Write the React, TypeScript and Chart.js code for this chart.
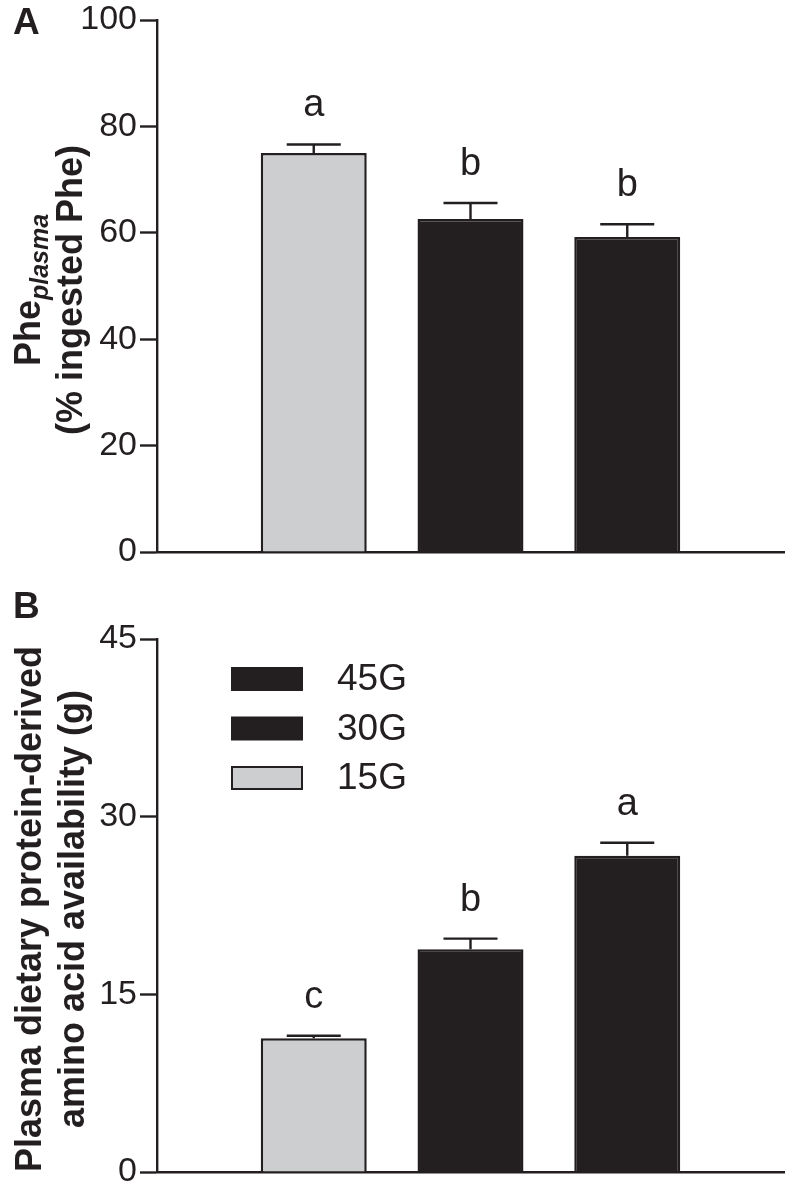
import React, { useEffect, useRef } from "react";
import { Chart, registerables } from "chart.js";

Chart.register(...registerables);

// ---------- data ----------
const slots = ["", "15G", "30G", "45G", ""];
const pheValues = [75.0, 62.6, 59.2];
const pheErrors = [1.6, 3.0, 2.4];
const pheLetters = ["a", "b", "b"];
const pheTicks = [0, 20, 40, 60, 80, 100];

const aaValues = [11.3, 18.8, 26.7];
const aaErrors = [0.2, 0.9, 1.1];
const aaLetters = ["c", "b", "a"];
const aaTicks = [0, 15, 30, 45];

const legendLabels = ["45G", "30G", "15G"];
const legendColors = ["#231f20", "#231f20", "#cdced0"];
const barColors = ["#cdced0", "#231f20", "#231f20"];

// ---------- styles ----------
const INK = "#231f20";
const FONT = '"Liberation Sans", Arial, Helvetica, sans-serif';

type TitlePart = { text: string; font: string; dy: number };

function drawRotated(ctx: CanvasRenderingContext2D, cx: number, cy: number, parts: TitlePart[]) {
  ctx.save();
  ctx.translate(cx, cy);
  ctx.rotate(-Math.PI / 2);
  ctx.fillStyle = INK;
  ctx.textAlign = "left";
  ctx.textBaseline = "alphabetic";
  const widths = parts.map((p) => {
    ctx.font = p.font;
    return ctx.measureText(p.text).width;
  });
  const total = widths.reduce((a, b) => a + b, 0);
  let u = -total / 2;
  parts.forEach((p, i) => {
    ctx.font = p.font;
    ctx.fillText(p.text, u, p.dy);
    u += widths[i];
  });
  ctx.restore();
}

type PanelCfg = {
  values: number[];
  errors: number[];
  letters: string[];
  ticks: number[];
  max: number;
  padTop: number;
  padBottom: number;
  panelLabel: string;
  panelLabelY: number;
  titleLines: { parts: TitlePart[]; x: number }[];
  titleCenterY: number;
  legend: boolean;
};

function makePlugin(cfg: PanelCfg) {
  return {
    id: "panelExtras",
    afterDatasetsDraw(chart: any) {
      const ctx: CanvasRenderingContext2D = chart.ctx;
      const meta = chart.getDatasetMeta(0);
      const yScale = chart.scales.y;
      ctx.save();
      cfg.values.forEach((v, i) => {
        const bar: any = meta.data[i + 1];
        const x = bar.x;
        const top = yScale.getPixelForValue(v + cfg.errors[i]);
        const half = bar.width * 0.255;
        ctx.strokeStyle = INK;
        ctx.lineWidth = 2.4;
        ctx.beginPath();
        ctx.moveTo(x, bar.y);
        ctx.lineTo(x, top);
        ctx.moveTo(x - half, top);
        ctx.lineTo(x + half, top);
        ctx.stroke();
        ctx.fillStyle = INK;
        ctx.font = `38px ${FONT}`;
        ctx.textAlign = "center";
        ctx.textBaseline = "alphabetic";
        ctx.fillText(cfg.letters[i], x, top - 28);
      });
      ctx.restore();
    },
    afterDraw(chart: any) {
      const ctx: CanvasRenderingContext2D = chart.ctx;
      ctx.save();
      // panel label
      ctx.fillStyle = INK;
      ctx.font = `bold 37px ${FONT}`;
      ctx.textAlign = "left";
      ctx.textBaseline = "alphabetic";
      ctx.fillText(cfg.panelLabel, 13, cfg.panelLabelY);
      // axis title
      cfg.titleLines.forEach((line) => drawRotated(ctx, line.x, cfg.titleCenterY, line.parts));
      // legend
      if (cfg.legend) {
        legendLabels.forEach((lab, i) => {
          const y0 = 88 + i * 49.5;
          ctx.fillStyle = legendColors[i];
          ctx.fillRect(232, y0, 70, 22);
          ctx.strokeStyle = INK;
          ctx.lineWidth = 2;
          ctx.strokeRect(232, y0, 70, 22);
          ctx.fillStyle = INK;
          ctx.font = `37px ${FONT}`;
          ctx.textAlign = "left";
          ctx.textBaseline = "middle";
          ctx.fillText(lab, 337, y0 + 12);
        });
      }
      ctx.restore();
    },
  };
}

function makeConfig(cfg: PanelCfg): any {
  return {
    type: "bar",
    data: {
      labels: slots,
      datasets: [
        {
          data: [null, ...cfg.values, null],
          backgroundColor: ["#fff", ...barColors, "#fff"],
          borderColor: INK,
          borderWidth: 2.5,
          barPercentage: 0.676,
          categoryPercentage: 1,
        },
      ],
    },
    options: {
      animation: false,
      responsive: false,
      devicePixelRatio: 1,
      layout: { padding: { top: cfg.padTop, bottom: cfg.padBottom, right: 3, left: 0 } },
      plugins: { legend: { display: false }, tooltip: { enabled: false }, title: { display: false } },
      scales: {
        x: {
          type: "category",
          offset: false,
          ticks: { display: false },
          grid: { display: true, drawOnChartArea: false, drawTicks: false },
          border: { display: true, color: INK, width: 2.4 },
          afterFit(scale: any) {
            scale.height = 0;
          },
        },
        y: {
          min: 0,
          max: cfg.max,
          afterBuildTicks(scale: any) {
            scale.ticks = cfg.ticks.map((v) => ({ value: v }));
          },
          ticks: {
            color: INK,
            font: { family: FONT, size: 34, lineHeight: 1 },
            padding: 3,
          },
          grid: {
            display: true,
            drawOnChartArea: false,
            drawTicks: true,
            tickLength: 17,
            tickWidth: 2.4,
            tickColor: INK,
          },
          border: { display: true, color: INK, width: 2.4 },
          afterFit(scale: any) {
            scale.width = 157;
          },
        },
      },
    },
    plugins: [makePlugin(cfg)],
  };
}

const panelA: PanelCfg = {
  values: pheValues,
  errors: pheErrors,
  letters: pheLetters,
  ticks: pheTicks,
  max: 100,
  padTop: 18,
  padBottom: 28,
  panelLabel: "A",
  panelLabelY: 34,
  titleCenterY: 290,
  titleLines: [
    {
      x: 40,
      parts: [
        { text: "Phe", font: `bold 36px ${FONT}`, dy: 0 },
        { text: "plasma", font: `italic bold 25px ${FONT}`, dy: 8 },
      ],
    },
    { x: 82, parts: [{ text: "(% ingested Phe)", font: `bold 36px ${FONT}`, dy: 0 }] },
  ],
  legend: false,
};

const panelB: PanelCfg = {
  values: aaValues,
  errors: aaErrors,
  letters: aaLetters,
  ticks: aaTicks,
  max: 45,
  padTop: 59,
  padBottom: 28,
  panelLabel: "B",
  panelLabelY: 38,
  titleCenterY: 329,
  titleLines: [
    { x: 41, parts: [{ text: "Plasma dietary protein-derived", font: `bold 36px ${FONT}`, dy: 0 }] },
    { x: 84, parts: [{ text: "amino acid availability (g)", font: `bold 36px ${FONT}`, dy: 0 }] },
  ],
  legend: true,
};

function Panel({ cfg, top, height }: { cfg: PanelCfg; top: number; height: number }) {
  const ref = useRef<HTMLCanvasElement | null>(null);
  useEffect(() => {
    if (!ref.current) return;
    const chart = new Chart(ref.current, makeConfig(cfg));
    return () => chart.destroy();
  }, [cfg]);
  return (
    <canvas
      ref={ref}
      width={787}
      height={height}
      style={{ position: "absolute", left: 0, top, width: 787, height }}
    />
  );
}

export default function App() {
  return (
    <div
      style={{
        position: "fixed",
        left: 0,
        top: 0,
        width: 787,
        height: 1183,
        overflow: "hidden",
        background: "#fff",
      }}
    >
      <Panel cfg={panelA} top={0} height={580} />
      <Panel cfg={panelB} top={580} height={620} />
    </div>
  );
}
